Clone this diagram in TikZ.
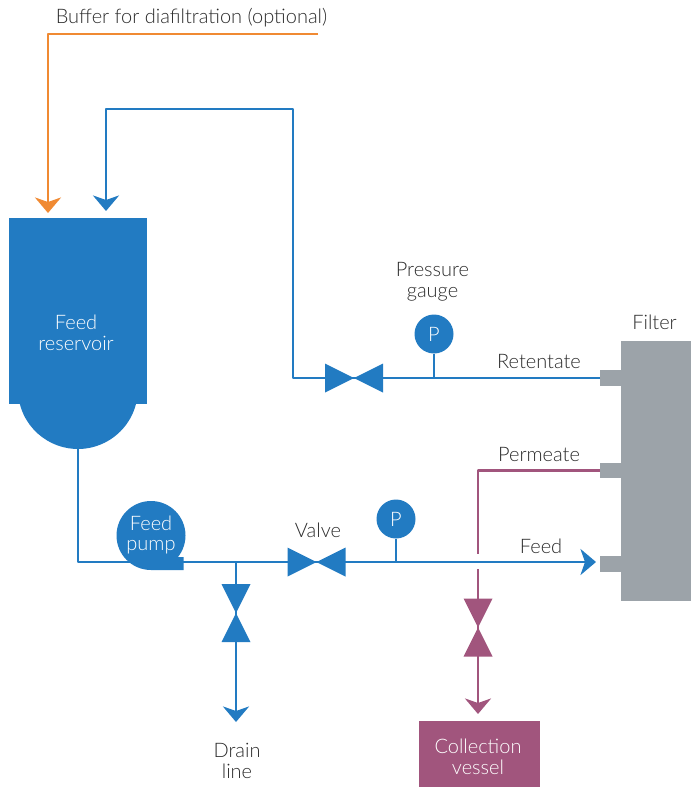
\documentclass[tikz,border=0pt]{standalone}
\usepackage{fontspec}
\setmainfont{Lato Light}[BoldFont=Lato]
\usetikzlibrary{arrows.meta}
\definecolor{pipeblue}{HTML}{227BC2}
\definecolor{pipeorange}{HTML}{F08A33}
\definecolor{pipepurple}{HTML}{A1557D}
\definecolor{filtergrey}{HTML}{9CA3A9}
\definecolor{labelgrey}{HTML}{2B2B2B}
\tikzset{
	pipe/.style={line width=2.8pt, line join=round},
	tip/.style={-{Stealth[length=15.5pt, width=26pt, inset=4.5pt]}},
	label/.style={font=\fontsize{20}{21}\selectfont, text=labelgrey, align=center, inner sep=0pt},
	inlabel/.style={label, text=white},
	gauge/.style={circle, fill=pipeblue, minimum size=39pt, inner sep=0pt, text=white, font=\fontsize{20}{20}\selectfont},
	port/.style={fill=filtergrey, minimum width=21pt, minimum height=15.5pt, inner sep=0pt, anchor=west}
}
\begin{document}
\begin{tikzpicture}[x=1pt, y=-1pt]
	\useasboundingbox (0,0) rectangle (691,787);
	% vessels and filter
	\node[fill=pipeblue, minimum width=138pt, minimum height=186pt, inner sep=0pt] (reservoir) at (78,311) {};
	\fill[pipeblue] (19.7,403.5) arc[start angle=194, end angle=346, radius=60pt] -- cycle;
	\node[fill=filtergrey, minimum width=70pt, minimum height=260pt, inner sep=0pt] (filter) at (656,471) {};
	\node[port] (retport) at (600,378) {};
	\node[port] (perport) at (600,470.5) {};
	\node[port] (feedport) at (600,564) {};
	\node[fill=pipepurple, minimum width=121pt, minimum height=66pt, inner sep=0pt] (vessel) at (479.5,754) {};
	\node[circle, fill=pipeblue, minimum size=69pt, inner sep=0pt] (pump) at (151,535.5) {};
	\fill[pipeblue] (151,570) -- (183.5,570) -- (183.5,557) -- (170,557) -- cycle;
	\node[gauge] (gaugetop) at (434,334) {P};
	\node[gauge] (gaugelow) at (396,519) {P};
	% valves: x/y/name/colour
	\foreach \x/\y/\vname/\c in {354/378/retvalve/pipeblue, 316.5/562/feedvalve/pipeblue}{
		\coordinate (\vname) at (\x,\y);
		\fill[\c] (\x-29,\y-14.5) -- (\x+29,\y+14.5) -- (\x+29,\y-14.5) -- (\x-29,\y+14.5) -- cycle;
	}
	\foreach \x/\y/\vname/\c in {236/613/drainvalve/pipeblue, 478/627.5/permvalve/pipepurple}{
		\coordinate (\vname) at (\x,\y);
		\fill[\c] (\x-14.5,\y-29) -- (\x+14.5,\y+29) -- (\x-14.5,\y+29) -- (\x+14.5,\y-29) -- cycle;
	}
	% free ends and bends
	\coordinate (bufferend) at (318,34);
	\coordinate (bufferbend) at (48,34);
	\coordinate (bufferin) at (48,213);
	\coordinate (retbend) at (293,378);
	\coordinate (rettop) at (293,109);
	\coordinate (retleft) at (106,109);
	\coordinate (retin) at (106,211);
	\coordinate (resout) at (78,449);
	\coordinate (pumpbend) at (78,562);
	\coordinate (pumpout) at (183,562);
	\coordinate (drainjoin) at (236,562);
	\coordinate (drainend) at (236,722);
	\coordinate (feedend) at (596,562);
	\coordinate (topjoin) at (434,378);
	\coordinate (lowjoin) at (396,562);
	\coordinate (perbend) at (478,470.5);
	\coordinate (pergap) at (478,554);
	\coordinate (perrestart) at (478,569);
	\coordinate (perend) at (478,714);
	% pipes
	\draw[pipe, pipeorange, tip] (bufferend) -- (bufferbend) -- (bufferin);
	\draw[pipe, pipeblue, tip] (retport.west) -- (retvalve) -- (retbend) -- (rettop) -- (retleft) -- (retin);
	\draw[pipe, pipeblue] (resout) -- (pumpbend) -- (pumpout);
	\draw[pipe, pipeblue, tip] (pumpout) -- (feedvalve) -- (feedend);
	\draw[pipe, pipeblue, tip] (drainjoin) -- (drainvalve) -- (drainend);
	\draw[pipe, pipeblue] (gaugetop.south) -- (topjoin);
	\draw[pipe, pipeblue] (gaugelow.south) -- (lowjoin);
	\draw[pipe, pipepurple] (perport.west) -- (perbend) -- (pergap);
	\draw[pipe, pipepurple, tip] (perrestart) -- (permvalve) -- (perend);
	% labels
	\node[label] (bufferlabel) at (191.5,18) {Buffer for diafiltration (optional)};
	\node[inlabel] (reslabel) at (76,332.5) {Feed\\reservoir};
	\node[inlabel, font=\fontsize{20}{19.5}\selectfont] (pumplabel) at (151,535) {Feed\\pump};
	\node[label] (gaugelabel) at (432.5,281.5) {Pressure\\gauge};
	\node[label] (filterlabel) at (654.5,322.5) {Filter};
	\node[label] (retlabel) at (539,361.5) {Retentate};
	\node[label] (perlabel) at (539,454) {Permeate};
	\node[label] (feedlabel) at (541,546) {Feed};
	\node[label] (valvelabel) at (318,530) {Valve};
	\node[label] (drainlabel) at (237,761) {Drain\\line};
	\node[inlabel] (vessellabel) at (478,756.5) {Collection\\vessel};
\end{tikzpicture}
\end{document}
